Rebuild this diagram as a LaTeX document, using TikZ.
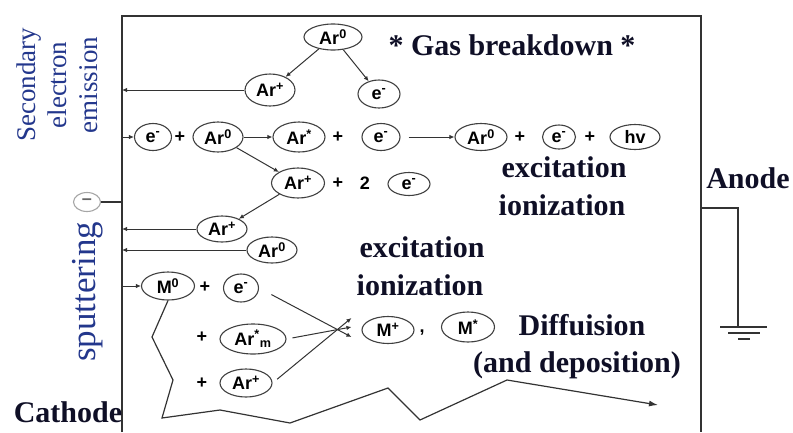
\documentclass[tikz,border=0pt]{standalone}
\usepackage{fontspec}
\setmainfont{Liberation Serif}
\newfontfamily\arial{Liberation Sans}
\usepackage{tikz}
\usetikzlibrary{shapes.geometric, arrows.meta}
\definecolor{ink}{RGB}{15,15,38}
\definecolor{blueink}{RGB}{35,55,140}

\begin{document}
\begin{tikzpicture}[x=1pt, y=-1pt,
    part/.style={ellipse, draw=black!75, line width=1.1pt, inner sep=0pt, font=\arial\bfseries\fontsize{18}{18}\selectfont},
    sign/.style={font=\arial\bfseries\fontsize{18}{18}\selectfont},
    word/.style={font=\bfseries\fontsize{30}{30}\selectfont, text=ink},
    flow/.style={line width=1pt, draw=black!80, -{Latex[length=5pt,width=4.5pt]}},
    wire/.style={line width=1.8pt, draw=black!80}]
            \useasboundingbox (0, 0) rectangle (793, 432);

            % chamber
            \coordinate (bl) at (122, 432);
            \coordinate (tr) at (701, 16);
            \coordinate (br) at (701, 432);
            \draw[wire] (bl) |- (tr) -- (br);

            % anode and ground
            \coordinate (tap) at (701, 208);
            \coordinate (gnd) at (738, 327);
            \coordinate (g1) at (744, 327);
            \coordinate (g2) at (744, 333);
            \coordinate (g3) at (744, 339);
            \draw[wire] (tap) -| (gnd);
            \draw[wire, line width=1.5pt] ([xshift=-24pt]g1) -- ([xshift=23pt]g1);
            \draw[wire, line width=1.5pt] ([xshift=-16pt]g2) -- ([xshift=16pt]g2);
            \draw[wire, line width=1.5pt] ([xshift=-6pt]g3) -- ([xshift=6pt]g3);

            % labels
            \node[word] at (512, 45)   (gas) {* Gas breakdown *};
            \node[word] at (564, 167)  (exca) {excitation};
            \node[word] at (562, 205)  (iona) {ionization};
            \node[word] at (422, 247)  (excb) {excitation};
            \node[word] at (420, 285)  (ionb) {ionization};
            \node[word] at (582, 325)  (diff) {Diffuision};
            \node[word] at (577, 365)  (depo) {(and deposition)};
            \node[word] at (748, 178)  (anode) {Anode};
            \node[word] at (68, 412)   (cathode) {Cathode};
            \node[rotate=90, align=center, text=blueink, font=\fontsize{27}{31}\selectfont] at (57, 85) (see) {Secondary\\electron\\emission};
            \node[rotate=90, text=blueink, font=\fontsize{35}{35}\selectfont] at (88, 292) (sput) {sputtering};

            % gas breakdown
            \node[part, minimum width=58pt, minimum height=26pt] at (333, 37)   (ar0t) {Ar\textsuperscript{0}};
            \node[part, minimum width=50pt, minimum height=32pt] at (270, 90)   (arpt) {Ar\textsuperscript{+}};
            \node[part, minimum width=42pt, minimum height=28pt] at (379, 94)   (et) {e\textsuperscript{-}};

            % excitation row
            \node[part, minimum width=37pt, minimum height=27pt] at (153, 137)  (ea) {e\textsuperscript{-}};
            \node[sign] at (180, 137)  (pa) {+};
            \node[part, minimum width=50pt, minimum height=30pt] at (218, 137)  (ar0a) {Ar\textsuperscript{0}};
            \node[part, minimum width=52pt, minimum height=30pt] at (299, 137)  (arsa) {Ar\textsuperscript{*}};
            \node[sign] at (338, 137)  (pb) {+};
            \node[part, minimum width=38pt, minimum height=27pt] at (381, 137)  (eb) {e\textsuperscript{-}};
            \node[part, minimum width=52pt, minimum height=27pt] at (481, 137)  (ar0b) {Ar\textsuperscript{0}};
            \node[sign] at (520, 137)  (pc) {+};
            \node[part, minimum width=33pt, minimum height=24pt] at (559, 137)  (ec) {e\textsuperscript{-}};
            \node[sign] at (590, 137)  (pd) {+};
            \node[part, minimum width=50pt, minimum height=25pt] at (635, 137)  (hv) {hv};

            % ionization row
            \node[part, minimum width=53pt, minimum height=30pt] at (298, 183)  (arpa) {Ar\textsuperscript{+}};
            \node[sign] at (338, 183)  (pe) {+};
            \node[sign] at (365, 183)  (two) {2};
            \node[part, minimum width=42pt, minimum height=23pt] at (409, 184)  (ed) {e\textsuperscript{-}};

            % ions and neutrals to the cathode
            \node[part, minimum width=50pt, minimum height=26pt] at (222, 229)  (arpb) {Ar\textsuperscript{+}};
            \node[part, minimum width=50pt, minimum height=26pt] at (272, 250)  (ar0c) {Ar\textsuperscript{0}};
            \node[part, draw=black!35, text=black!60, font=\arial\bfseries\fontsize{18}{18}\selectfont, minimum width=27pt, minimum height=19pt] at (87, 202) (neg) {\textendash};

            % sputtered metal
            \node[part, minimum width=53pt, minimum height=28pt] at (168, 286)  (m0) {M\textsuperscript{0}};
            \node[sign] at (205, 287)  (pf) {+};
            \node[part, minimum width=35pt, minimum height=28pt] at (241, 288)  (ee) {e\textsuperscript{-}};
            \node[sign] at (202, 337)  (pg) {+};
            \node[part, minimum width=66pt, minimum height=30pt] at (253, 339)  (arm) {Ar\textsuperscript{*}\textsubscript{m}};
            \node[sign] at (202, 383)  (ph) {+};
            \node[part, minimum width=52pt, minimum height=28pt] at (246, 383)  (arpc) {Ar\textsuperscript{+}};
            \node[part, minimum width=52pt, minimum height=27pt] at (388, 330)  (mp) {M\textsuperscript{+}};
            \node[sign] at (422, 333)  (comma) {,};
            \node[part, minimum width=53pt, minimum height=30pt] at (468, 327)  (ms) {M\textsuperscript{*}};

            % connectors
            \draw[flow] (ar0t) -- (arpt);
            \draw[flow] (ar0t) -- (et);
            \draw[flow] (arpt.west) -- (arpt.west -| bl);
            \draw[flow] (ea.west -| bl) -- (ea.west);
            \draw[flow] (ar0a) -- (arsa);
            \draw[flow, shorten <=8pt] (eb.east) -- (ar0b.west);
            \draw[flow] (ar0a) -- (arpa);
            \draw[flow] (arpa) -- (arpb);
            \draw[flow] (arpb.west) -- (arpb.west -| bl);
            \draw[flow] (ar0c.west) -- (ar0c.west -| bl);
            \draw[wire, line width=1.3pt] (neg.east) -- (neg.east -| bl);
            \draw[flow] (m0.west -| bl) -- (m0.west);
            \draw[flow, shorten <=14pt] (ee.east) -- ([xshift=-10pt, yshift=-7pt]mp.west);
            \draw[flow, shorten <=6pt] (arm.east) -- ([xshift=-10pt, yshift=3pt]mp.west);
            \draw[flow, shorten <=6pt] (arpc.east) -- ([xshift=-10pt, yshift=12pt]mp.west);

            % diffusion path
            \coordinate (z1) at (152, 337);
            \coordinate (z2) at (173, 380);
            \coordinate (z3) at (162, 418);
            \coordinate (z4) at (220, 410);
            \coordinate (z5) at (290, 423);
            \coordinate (z6) at (388, 388);
            \coordinate (z7) at (420, 420);
            \coordinate (z8) at (507, 380);
            \coordinate (zend) at (658, 405);
            \draw[flow, line width=1.2pt, -{Latex[length=9pt,width=6pt]}] (m0.south) -- (z1) -- (z2) -- (z3) -- (z4) -- (z5) -- (z6) -- (z7) -- (z8) -- (zend);
        \end{tikzpicture}
\end{document}
